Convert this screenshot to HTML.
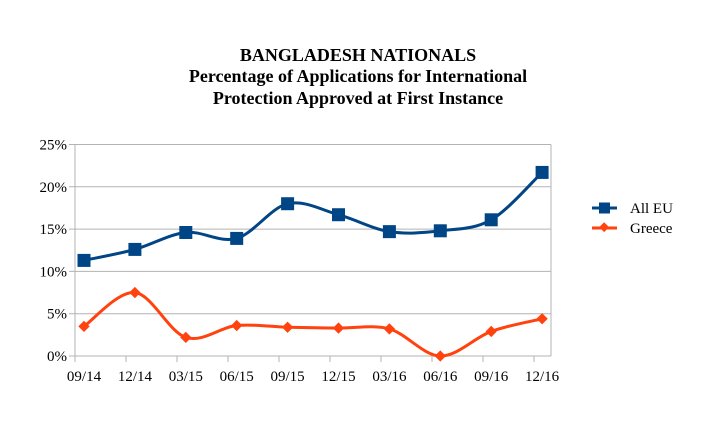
<!DOCTYPE html>
<html><head><meta charset="utf-8"><style>
html,body{margin:0;padding:0;background:#fff;}
svg{display:block;font-family:"Liberation Serif",serif;}
</style></head><body>
<svg id="chart" width="701" height="429">
<g font-weight="bold" font-size="18" text-anchor="middle" fill="#000">
<text x="358" y="61">BANGLADESH NATIONALS</text>
<text x="358" y="82">Percentage of Applications for International</text>
<text x="358" y="104">Protection Approved at First Instance</text>
</g>
<g id="grid"></g><g id="series"></g>
<g font-size="15">
<g>
<line x1="592" y1="208" x2="617" y2="208" stroke="#004586" stroke-width="3"/>
<rect x="599" y="202.5" width="11" height="11" fill="#004586"/>
<text x="630" y="213">All EU</text></g>
<g>
<line x1="592" y1="228" x2="617" y2="228" stroke="#ff420e" stroke-width="3"/>
<rect x="600.5" y="224" width="7" height="7" fill="#ff420e" transform="rotate(45 604.5 227.5)"/>
<text x="630" y="233">Greece</text></g>
</g>
</svg>
<script>
const categories=["09/14","12/14","03/15","06/15","09/15","12/15","03/16","06/16","09/16","12/16"];
const allEU=[11.3,12.6,14.6,13.9,18.0,16.7,14.7,14.8,16.1,21.7];
const greece=[3.5,7.5,2.2,3.6,3.4,3.3,3.2,0.0,2.9,4.4];
const yTicks=[0,5,10,15,20,25];
const yTickLabels=["0%","5%","10%","15%","20%","25%"];
const NS="http://www.w3.org/2000/svg";
const L=75,R=551,T=144.5,B=356,yMax=25;
const y=v=>B-v/yMax*(B-T);
const xp=i=>84+i*50.9;
const xt=i=>75+i*51;
const grid=document.getElementById('grid'),ser=document.getElementById('series');
function mk(t,a,p){const e=document.createElementNS(NS,t);for(const k in a)e.setAttribute(k,a[k]);p.appendChild(e);return e;}
yTicks.forEach((v,i)=>{
 const g=mk('line',{x1:L-6,x2:R,y1:y(v),y2:y(v),stroke:'#b3b3b3','stroke-width':1},grid);
 
 
 const t=mk('text',{x:L-8,y:y(v)+5,'text-anchor':'end','font-size':15},grid);
 t.textContent=yTickLabels[i];
 
 
});
mk('line',{x1:L,x2:L,y1:T,y2:B,stroke:'#b3b3b3'},grid);
mk('line',{x1:R,x2:R,y1:T,y2:B,stroke:'#b3b3b3'},grid);
categories.forEach((c,i)=>{
 mk('line',{x1:xt(i),x2:xt(i),y1:B,y2:B+6,stroke:'#b3b3b3'},grid);
 const t=mk('text',{x:xp(i),y:B+25,'text-anchor':'middle','font-size':15},grid);
 t.textContent=c;
 
 
});
function path(vals){
 const p=vals.map((v,i)=>[xp(i),y(v)]);
 let d=`M${p[0][0]},${p[0][1]}`;
 for(let i=0;i<p.length-1;i++){
  const p0=p[i-1]||p[i],p1=p[i],p2=p[i+1],p3=p[i+2]||p2;
  const c1=[p1[0]+(p2[0]-p0[0])/6,p1[1]+(p2[1]-p0[1])/6];
  const c2=[p2[0]-(p3[0]-p1[0])/6,p2[1]-(p3[1]-p1[1])/6];
  d+=` C${c1[0]},${c1[1]} ${c2[0]},${c2[1]} ${p2[0]},${p2[1]}`;
 }
 return d;
}
[[allEU,'#004586','all-eu','sq'],[greece,'#ff420e','greece','dia']].forEach(([vals,col,nm,m])=>{
 const l=mk('path',{d:path(vals),fill:'none',stroke:col,'stroke-width':3},ser);
 
 
 vals.forEach((v,i)=>{
  let e;
  if(m==='sq') e=mk('rect',{x:xp(i)-6.5,y:y(v)-6.5,width:13,height:13,fill:col},ser);
  else e=mk('rect',{x:xp(i)-4,y:y(v)-4,width:8,height:8,fill:col,transform:`rotate(45 ${xp(i)} ${y(v)})`},ser);
  
  
 });
});
</script>
</body></html>
